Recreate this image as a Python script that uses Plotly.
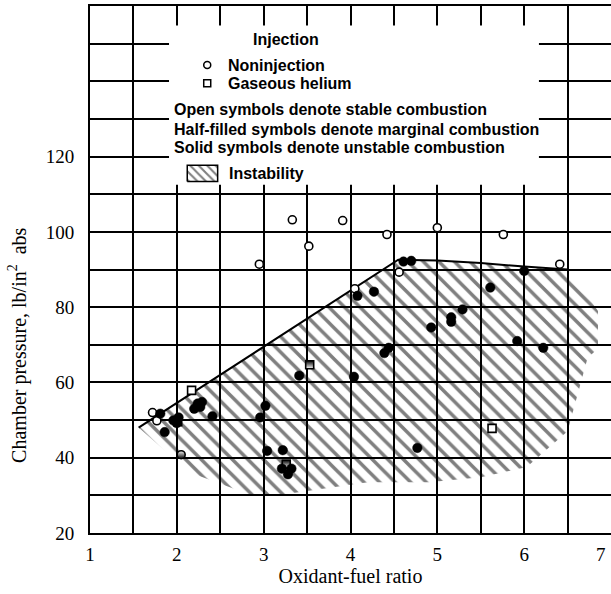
import plotly.graph_objects as go

# ---------------- data ----------------
x_ticks = [1, 1.5, 2, 2.5, 3, 3.5, 4, 4.5, 5, 5.5, 6, 6.5, 7]
x_tick_text = ["1", " ", "2", " ", "3", " ", "4", " ", "5", " ", "6", " ", "7"]
y_ticks = [20, 30, 40, 50, 60, 70, 80, 90, 100, 110, 120, 130, 140, 150, 160]
y_tick_text = ["20", " ", "40", " ", "60", " ", "80", " ", "100", " ", "120", " ", " ", " ", " "]

# stable (open) – noninjection circles
open_circ_x = [3.33, 3.91, 3.52, 2.95, 4.42, 5.00, 5.76, 6.41, 4.56, 4.05, 1.72, 1.77]
open_circ_y = [103.2, 103.0, 96.2, 91.4, 99.3, 101.1, 99.3, 91.4, 89.3, 84.9, 52.0, 49.8]
# stable (open) – gaseous helium squares
open_sq_x = [2.17, 5.63, 2.01]
open_sq_y = [57.9, 47.8, 49.6]
# marginal (half-filled)
half_sq_x = [3.53, 3.26]
half_sq_y = [64.7, 38.3]
half_circ_x = [2.05]
half_circ_y = [40.8]
# unstable (solid)
solid_x = [4.61, 4.70, 4.08, 4.27, 5.61, 6.00, 5.29, 5.16, 5.16, 4.93, 5.92, 6.22,
           4.44, 4.39, 3.41, 4.04, 2.20, 2.24, 2.29, 2.27, 2.41, 1.81, 1.86, 1.96,
           2.00, 2.02, 3.02, 2.96, 3.04, 3.22, 3.21, 3.32, 3.28, 4.77]
solid_y = [92.1, 92.3, 83.0, 84.1, 85.2, 89.6, 79.4, 77.3, 76.1, 74.6, 71.0, 69.2,
           69.2, 67.8, 61.8, 61.5, 53.0, 54.4, 54.8, 53.5, 51.0, 51.7, 46.8, 49.9,
           49.2, 50.7, 53.8, 50.7, 41.8, 42.0, 37.1, 37.1, 35.6, 42.6]

# instability region
hatch_x = [1.56, 4.55, 5.00, 5.50, 6.00, 6.50, 6.70, 6.85, 6.85, 6.73, 6.50,
           6.03, 5.50, 4.90, 4.20, 3.24, 2.83, 2.15, 1.56]
hatch_y = [48.0, 92.6, 92.4, 91.7, 90.8, 90.0, 84.0, 79.0, 69.0, 66.5, 47.0,
           37.5, 34.8, 33.5, 33.5, 30.3, 30.3, 36.1, 48.0]
bound_x = [1.56, 4.55, 5.00, 5.50, 6.00, 6.50]
bound_y = [48.0, 92.6, 92.4, 91.7, 90.8, 90.0]

# legend key
legend_lines = ["Open symbols denote stable combustion",
                "Half-filled symbols denote marginal combustion",
                "Solid symbols denote unstable combustion"]

# ---------------- figure ----------------
fig = go.Figure()

fig.add_trace(go.Scatter(
    x=hatch_x, y=hatch_y, mode="none", fill="toself",
    fillcolor="rgba(0,0,0,0)",
    fillpattern=dict(shape="\\", fgcolor="black", bgcolor="rgba(0,0,0,0)",
                     size=11, solidity=0.32),
    hoverinfo="skip", showlegend=False))
fig.add_trace(go.Scatter(x=bound_x, y=bound_y, mode="lines",
                         line=dict(color="black", width=2), showlegend=False))

mk_line = dict(color="black", width=1.6)
fig.add_trace(go.Scatter(x=open_circ_x, y=open_circ_y, mode="markers",
                         marker=dict(symbol="circle", size=8, color="white", line=mk_line),
                         showlegend=False))
fig.add_trace(go.Scatter(x=open_sq_x, y=open_sq_y, mode="markers",
                         marker=dict(symbol="square", size=8, color="white", line=mk_line),
                         showlegend=False))
fig.add_trace(go.Scatter(x=half_sq_x, y=half_sq_y, mode="markers",
                         marker=dict(symbol="square", size=8, color="black", line=mk_line,
                                     gradient=dict(type="vertical", color="white")),
                         showlegend=False))
fig.add_trace(go.Scatter(x=half_circ_x, y=half_circ_y, mode="markers",
                         marker=dict(symbol="circle", size=8, color="white", line=mk_line,
                                     gradient=dict(type="vertical", color="black")),
                         showlegend=False))
fig.add_trace(go.Scatter(x=solid_x, y=solid_y, mode="markers",
                         marker=dict(symbol="circle", size=9.5, color="black",
                                     line=dict(color="black", width=0.5)),
                         showlegend=False))

# legend key (drawn inside plot)
fig.add_trace(go.Scatter(x=[2.35, 2.35], y=[144.3, 139.5], mode="markers",
                         marker=dict(symbol=["circle", "square"], size=7, color="white",
                                     line=dict(color="black", width=1.5)),
                         showlegend=False, hoverinfo="skip"))
fig.add_trace(go.Scatter(
    x=[2.12, 2.47, 2.47, 2.12, 2.12], y=[113.4, 113.4, 117.7, 117.7, 113.4],
    mode="lines", fill="toself", line=dict(color="black", width=1.5),
    fillcolor="rgba(0,0,0,0)",
    fillpattern=dict(shape="\\", fgcolor="black", bgcolor="white", size=6, solidity=0.35),
    showlegend=False, hoverinfo="skip"))

leg_font = dict(family="Liberation Sans, Arial", size=16, color="black")
fig.add_annotation(x=3.26, y=151.2, text="<b>Injection</b>", showarrow=False,
                   xanchor="center", font=leg_font)
fig.add_annotation(x=2.57, y=144.3, text="<b>Noninjection</b>", showarrow=False,
                   xanchor="left", font=leg_font)
fig.add_annotation(x=2.57, y=139.5, text="<b>Gaseous helium</b>", showarrow=False,
                   xanchor="left", font=leg_font)
for yy, t in zip([132.4, 127.1, 122.3], legend_lines):
    fig.add_annotation(x=1.95, y=yy, text="<b>" + t + "</b>", showarrow=False,
                       xanchor="left", font=leg_font)
fig.add_annotation(x=2.58, y=115.5, text="<b>Instability</b>", showarrow=False,
                   xanchor="left", font=leg_font)

# y-axis title centred on labelled range
fig.add_annotation(xref="paper", yref="y", x=-0.138, y=70,
                   text="Chamber pressure, lb/in<sup>2</sup>  abs", textangle=-90,
                   showarrow=False, xanchor="center", yanchor="middle",
                   font=dict(family="Liberation Serif, Times New Roman", size=20, color="black"))

# white panel behind the key
fig.add_shape(type="rect", xref="x", yref="y", x0=1.91, x1=6.17, y0=112.5, y1=154.8,
              fillcolor="white", line=dict(width=0), layer="between")

tick_font = dict(family="Liberation Serif, Times New Roman", size=19, color="black")
# last x tick label sits at the page edge: show it slightly inset so it is not clipped
shown_x_text = x_tick_text[:-1] + [" "]
fig.add_annotation(x=x_ticks[-1], xref="x", yref="paper", y=0, yanchor="top",
                   xanchor="right", xshift=-3, yshift=-9, text=x_tick_text[-1],
                   showarrow=False, font=tick_font)

fig.update_xaxes(range=[1, 7], tickmode="array", tickvals=x_ticks, ticktext=shown_x_text,
                 showgrid=True, gridcolor="black", gridwidth=1.6, zeroline=False,
                 showline=True, linecolor="black", linewidth=2, mirror=True,
                 ticks="", tickfont=tick_font, ticklabelstandoff=3,
                 title=dict(text="Oxidant-fuel ratio",
                            font=dict(family="Liberation Serif, Times New Roman", size=20,
                                      color="black"), standoff=2))
fig.update_yaxes(range=[20, 160], tickmode="array", tickvals=y_ticks, ticktext=y_tick_text,
                 showgrid=True, gridcolor="black", gridwidth=1.6, zeroline=False,
                 showline=True, linecolor="black", linewidth=2, mirror=True,
                 ticks="", tickfont=tick_font, ticklabelstandoff=10)

fig.update_layout(width=611, height=594, margin=dict(l=90, r=0, t=6, b=61, autoexpand=False),
                  plot_bgcolor="white", paper_bgcolor="white", showlegend=False)

fig.write_html("out.html", config={"displayModeBar": False},
               post_script="document.body.style.margin='0';")
